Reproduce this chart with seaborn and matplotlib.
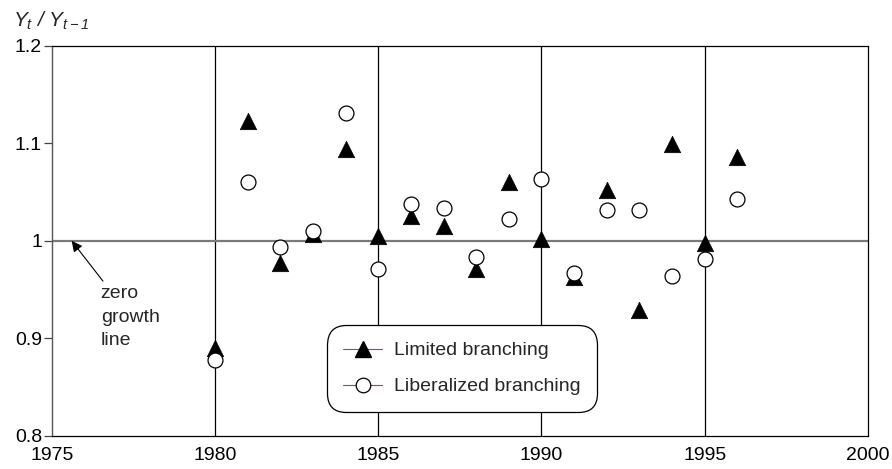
import matplotlib
matplotlib.use("Agg")
import matplotlib.pyplot as plt
import seaborn as sns
from matplotlib.lines import Line2D

# data
years = [1980, 1981, 1982, 1983, 1984, 1985, 1986, 1987, 1988,
         1989, 1990, 1991, 1992, 1993, 1994, 1995, 1996]
limited = [0.890, 1.123, 0.977, 1.007, 1.094, 1.005, 1.025, 1.015, 0.971,
           1.060, 1.002, 0.963, 1.052, 0.929, 1.099, 0.998, 1.086]
liberalized = [0.878, 1.060, 0.994, 1.010, 1.131, 0.971, 1.038, 1.034, 0.983,
               1.022, 1.063, 0.967, 1.032, 1.032, 0.964, 0.981, 1.043]
x_ticks = [1975, 1980, 1985, 1990, 1995, 2000]
y_ticks = [0.8, 0.9, 1.0, 1.1, 1.2]
y_tick_labels = ["0.8", "0.9", "1", "1.1", "1.2"]
grid_years = [1980, 1985, 1990, 1995]
series_names = ["Limited branching", "Liberalized branching"]

sns.set_theme(style="white")
plt.rcParams["font.family"] = ["Liberation Sans", "DejaVu Sans"]
plt.rcParams["mathtext.fontset"] = "custom"
plt.rcParams["mathtext.it"] = "Liberation Sans:italic"
plt.rcParams["mathtext.rm"] = "Liberation Sans:italic"

FS = 14

fig = plt.figure(figsize=(8.92, 4.69), dpi=100)
ax = fig.add_axes([0.058, 0.0704, 0.915, 0.8322])

# reference lines
for yr in grid_years:
    ax.axvline(yr, color="black", lw=0.9, zorder=1)
ax.axhline(1.0, color="#7a7a7a", lw=1.6, zorder=1)

sns.scatterplot(x=years, y=limited, marker="^", color="black",
                edgecolor="black", linewidth=0.5, s=140, ax=ax, zorder=3)
sns.scatterplot(x=years, y=liberalized, marker="o", color="white",
                edgecolor="black", linewidth=0.9, s=115, ax=ax, zorder=4)

ax.set_xlim(1975, 2000)
ax.set_ylim(0.8, 1.2)
ax.set_xticks(x_ticks)
ax.set_yticks(y_ticks)
ax.set_yticklabels(y_tick_labels)
ax.tick_params(axis="x", length=0, pad=8, labelsize=FS, colors="black")
ax.tick_params(axis="y", length=6, width=0.9, direction="out", pad=1,
               labelsize=FS, colors="black", left=True)
ax.tick_params(axis="y", color="#444444")
ax.set_xlabel("")
ax.set_ylabel("")

for side in ["top", "right", "bottom"]:
    ax.spines[side].set_color("black")
    ax.spines[side].set_linewidth(0.9)
ax.spines["left"].set_color("#555555")
ax.spines["left"].set_linewidth(1.0)

# axis title in the corner
fig.text(0.015, 0.955, r"$Y_t\ /\ Y_{t-1}$", fontsize=15, ha="left", va="center")

# zero growth annotation
ax.text(1976.5, 0.9545, "zero\ngrowth\nline", fontsize=FS, ha="left", va="top",
        linespacing=1.5, zorder=5)
ax.annotate("", xy=(1975.61, 1.0), xytext=(1976.57, 0.9587),
            arrowprops=dict(arrowstyle="-|>", color="black", lw=0.8,
                            mutation_scale=16, shrinkA=0, shrinkB=0),
            zorder=5)

handles = [
    Line2D([], [], color="#a8339c", lw=0.8, marker="^", markersize=11.5,
           markerfacecolor="black", markeredgecolor="black"),
    Line2D([], [], color="#a8339c", lw=0.8, marker="o", markersize=10.5,
           markerfacecolor="white", markeredgecolor="black", markeredgewidth=0.9),
]
leg = ax.legend(handles, series_names, loc="lower left",
                bbox_to_anchor=(0.337, 0.0615), borderaxespad=0,
                fontsize=FS, frameon=True, fancybox=True, borderpad=0.85,
                handlelength=2.0, handletextpad=0.6, labelspacing=0.95)
frame = leg.get_frame()
frame.set_edgecolor("black")
frame.set_linewidth(0.9)
frame.set_facecolor("white")
frame.set_alpha(1)
frame.set_boxstyle("round", pad=0, rounding_size=1.0)
leg.set_zorder(6)

fig.savefig("out.png", dpi=100)
